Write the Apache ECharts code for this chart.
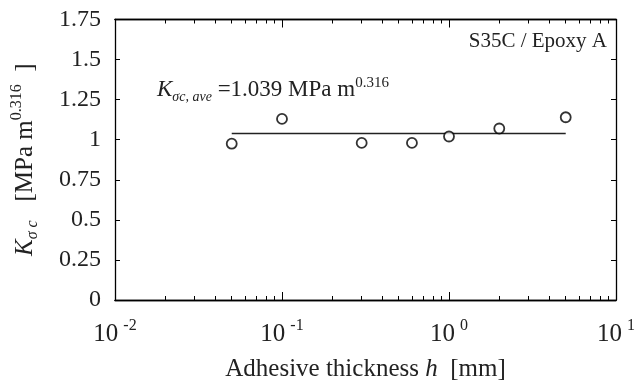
<!DOCTYPE html>
<html><head><meta charset="utf-8">
<script src="https://cdn.jsdelivr.net/npm/echarts@6/dist/echarts.min.js"></script>
<style>html,body{margin:0;padding:0;background:#fff}#c{width:639px;height:383px}</style>
</head><body><div id="c"></div>
<script>
const thickness = [0.05, 0.1, 0.3, 0.6, 1, 2, 5];
const kValues = [0.975, 1.13, 0.98, 0.98, 1.02, 1.07, 1.14];
const aveValue = 1.039;
const aveRange = [0.05, 5];
const xRange = [0.01, 10];
const majorTicks = [0.01, 0.1, 1, 10];
const minorTicks = [0.02,0.03,0.04,0.05,0.06,0.07,0.08,0.09,0.2,0.3,0.4,0.5,0.6,0.7,0.8,0.9,2,3,4,5,6,7,8,9];
const yTicks = [0, 0.25, 0.5, 0.75, 1, 1.25, 1.5, 1.75];

const F = 'Liberation Serif';
const C = '#222';
const chart = echarts.init(document.getElementById('c'), null, {renderer: 'canvas'});

// main log axis (data scale) with decade ticks and labels
function mainX() {
  return {
    type: 'log', logBase: 10, min: xRange[0], max: xRange[1], position: 'bottom',
    axisLine: {show: true, onZero: false, lineStyle: {color: '#000', width: 1.3}},
    axisTick: {show: true, inside: true, length: 8, lineStyle: {color: '#000', width: 1}},
    splitLine: {show: false}, minorTick: {show: false},
    axisLabel: {
      show: true, margin: 18, showMinLabel: true, showMaxLabel: true,
      formatter: v => '{b|10}{s|' + Math.round(Math.log10(v)) + '}',
      rich: {
        b: {fontFamily: F, fontSize: 25, color: C, lineHeight: 32},
        s: {fontFamily: F, fontSize: 16, color: C, verticalAlign: 'top', lineHeight: 4, padding: [0, 0, 0, 5]}
      }
    },
    name: '{t|Adhesive thickness }{i|h}{t|  [mm]}',
    nameLocation: 'middle', nameGap: 57,
    nameTextStyle: {rich: {
      t: {fontFamily: F, fontSize: 25, color: C},
      i: {fontFamily: F, fontSize: 25, fontStyle: 'italic', color: C}
    }}
  };
}
// tick-only decoration axes in log10 space
function tickX(pos, ticks, len) {
  return {
    type: 'value', min: Math.log10(xRange[0]), max: Math.log10(xRange[1]), position: pos,
    axisLine: {show: true, onZero: false, lineStyle: {color: '#000', width: 1.3}},
    axisTick: {show: true, inside: true, length: len, customValues: ticks.map(v => Math.log10(v)), lineStyle: {color: '#000', width: 1}},
    axisLabel: {show: false}, splitLine: {show: false}
  };
}
function yAx(pos, labels) {
  return {
    type: 'value', min: yTicks[0], max: yTicks[yTicks.length - 1], interval: 0.25, position: pos,
    axisLine: {show: true, onZero: false, lineStyle: {color: '#000', width: 1.3}},
    axisTick: {show: true, inside: true, length: 5, lineStyle: {color: '#000', width: 1}},
    splitLine: {show: false},
    axisLabel: labels ? {show: true, margin: 14, fontFamily: F, fontSize: 24, color: C} : {show: false}
  };
}
const yMain = yAx('left', true);
yMain.name = '{k|K}{sub|σ c}{t|   [MPa m}{sup|0.316}{t|  ]}';
yMain.nameLocation = 'middle';
yMain.nameRotate = 90;
yMain.nameGap = 74;
yMain.nameTextStyle = {
  rich: {
    k: {fontFamily: F, fontSize: 25, fontStyle: 'italic', color: C, lineHeight: 32},
    sub: {fontFamily: F, fontSize: 16, fontStyle: 'italic', color: C, verticalAlign: 'bottom', lineHeight: 22},
    t: {fontFamily: F, fontSize: 25, color: C, lineHeight: 32},
    sup: {fontFamily: F, fontSize: 16, color: C, verticalAlign: 'top', lineHeight: 8}
  }
};

chart.setOption({
  animation: false,
  grid: {left: 115, right: 23, top: 19.5, bottom: 83, containLabel: false, outerBoundsMode: 'none'},
  xAxis: [mainX(), tickX('bottom', minorTicks, 4), tickX('top', majorTicks, 8), tickX('top', minorTicks, 4)],
  yAxis: [yMain, yAx('right', false)],
  graphic: [
    {type: 'text', right: 32, top: 31, style: {text: 'S35C / Epoxy A', fontFamily: F, fontSize: 21, fill: C}},
    {type: 'text', left: 157, top: 76, style: {
      text: '{k|K}{sub|σc, ave}{t| =1.039 MPa m}{sup|0.316}',
      rich: {
        k: {fontFamily: F, fontSize: 23, fontStyle: 'italic', fill: C, lineHeight: 28},
        sub: {fontFamily: F, fontSize: 14, fontStyle: 'italic', fill: C, verticalAlign: 'bottom', lineHeight: 18},
        t: {fontFamily: F, fontSize: 23, fill: C, lineHeight: 28},
        sup: {fontFamily: F, fontSize: 15, fill: C, verticalAlign: 'top', lineHeight: 10}
      }
    }}
  ],
  series: [
    {type: 'line', xAxisIndex: 0, yAxisIndex: 0, data: aveRange.map(x => [x, aveValue]),
     showSymbol: false, symbol: 'none', lineStyle: {color: C, width: 1.5}, z: 2},
    {type: 'scatter', xAxisIndex: 0, yAxisIndex: 0, data: thickness.map((x, i) => [x, kValues[i]]),
     symbol: 'circle', symbolSize: 10, itemStyle: {color: '#fff', borderColor: '#000', borderWidth: 1.8}, z: 3}
  ]
});
</script></body></html>
